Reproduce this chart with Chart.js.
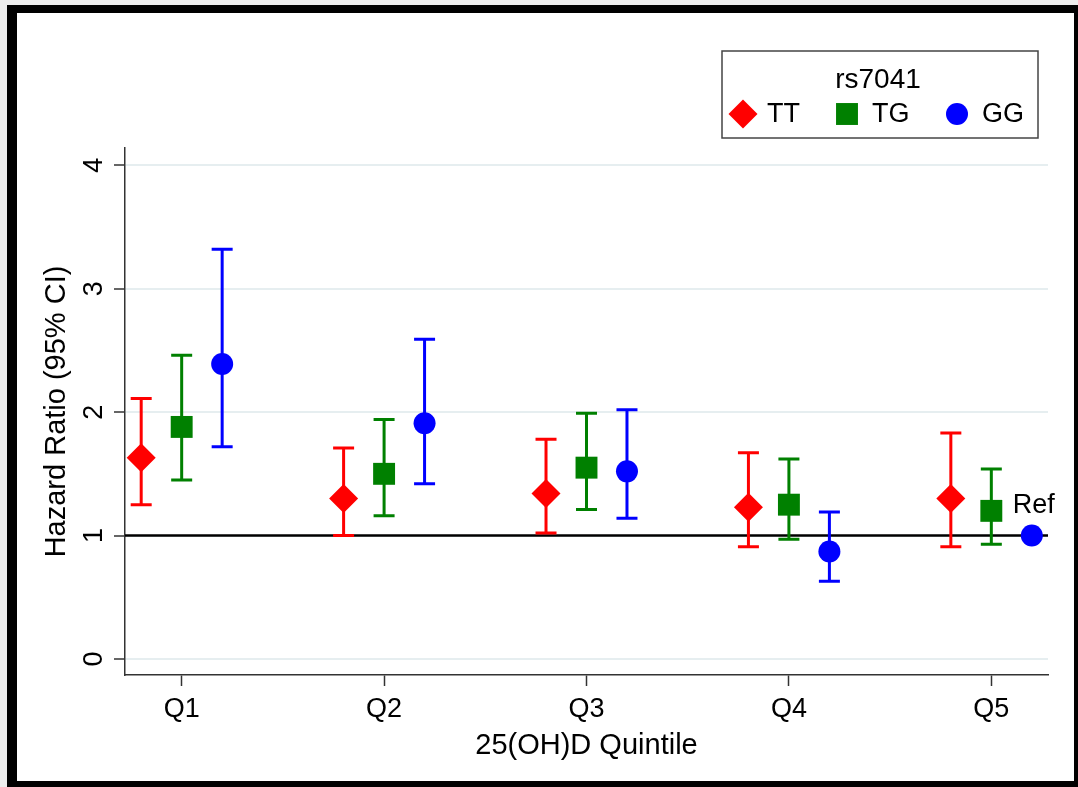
<!DOCTYPE html>
<html><head><meta charset="utf-8">
<script src="https://cdn.jsdelivr.net/npm/chart.js@4.4.1/dist/chart.umd.min.js"></script>
<style>
html,body{margin:0;padding:0;background:#ededed;width:1078px;height:787px;overflow:hidden;}
#frame{position:absolute;left:7px;top:5px;width:1071px;height:782px;box-sizing:border-box;border-style:solid;border-color:#000;border-width:8px 4px 6px 10px;background:#fff;}
#c{position:absolute;left:0;top:0;}
</style></head><body>
<div id="frame"></div>
<canvas id="c" width="1078" height="787"></canvas>
<script>
// ---- data ----
const categories = ['Q1','Q2','Q3','Q4','Q5'];
const genotypes = ['TT','TG','GG'];
const legendTitle = 'rs7041';
const xTitle = '25(OH)D Quintile';
const yTitle = 'Hazard Ratio (95% CI)';
const yTicks = [0,1,2,3,4];
const ttHR = [1.63,1.30,1.34,1.23,1.30];
const ttLo = [1.25,1.00,1.02,0.91,0.91];
const ttHi = [2.11,1.71,1.78,1.67,1.83];
const tgHR = [1.88,1.50,1.55,1.25,1.20];
const tgLo = [1.45,1.16,1.21,0.97,0.93];
const tgHi = [2.46,1.94,1.99,1.62,1.54];
const ggHR = [2.39,1.91,1.52,0.87,1.00];
const ggLo = [1.72,1.42,1.14,0.63,null];
const ggHi = [3.32,2.59,2.02,1.19,null];
const refValue = 1;
const refLabel = 'Ref';

// ---- styling ----
const FONT = "'Liberation Sans', Arial, Helvetica, sans-serif";
Chart.defaults.font.family = FONT;
Chart.defaults.color = '#000';
const xMin = 0.72, xMax = 5.28, yMin = -0.13, yMax = 4.14;
const groupOffset = [-0.2, 0, 0.2];
const colors = ['#ff0000','#008000','#0000ff'];
const markers = [
  {pointStyle:'rectRot', radius:14.5},
  {pointStyle:'rect', radius:15.5},
  {pointStyle:'circle', radius:11}
];
const series = [[ttHR,ttLo,ttHi],[tgHR,tgLo,tgHi],[ggHR,ggLo,ggHi]];

const datasets = series.map((s,i)=>({
  type:'scatter',
  label: genotypes[i],
  data: categories.map((c,j)=>({x:j+1+groupOffset[i], y:s[0][j], lo:s[1][j], hi:s[2][j]})),
  pointStyle: markers[i].pointStyle,
  pointRadius: markers[i].radius,
  pointHoverRadius: markers[i].radius,
  backgroundColor: colors[i],
  borderColor: colors[i],
  borderWidth: 0,
  order: 1
}));

const errorBarPlugin = {
  id:'errorBars',
  beforeDatasetsDraw(chart){
    const {ctx, chartArea, scales:{x, y}} = chart;
    ctx.save();
    const yr = y.getPixelForValue(refValue);
    ctx.strokeStyle = '#000'; ctx.lineWidth = 2.5;
    ctx.beginPath(); ctx.moveTo(chartArea.left, yr); ctx.lineTo(chartArea.right, yr); ctx.stroke();
    chart.data.datasets.forEach((ds)=>{
      ctx.strokeStyle = ds.borderColor; ctx.lineWidth = 3; ctx.lineCap = 'butt';
      ds.data.forEach(p=>{
        if (p.lo == null || p.hi == null) return;
        const px = x.getPixelForValue(p.x);
        const pl = y.getPixelForValue(p.lo), ph = y.getPixelForValue(p.hi);
        ctx.beginPath();
        ctx.moveTo(px, pl); ctx.lineTo(px, ph);
        ctx.moveTo(px-10.5, pl); ctx.lineTo(px+10.5, pl);
        ctx.moveTo(px-10.5, ph); ctx.lineTo(px+10.5, ph);
        ctx.stroke();
      });
    });
    ctx.restore();
  },
  afterDatasetsDraw(chart){
    const {ctx, scales:{x, y}} = chart;
    const ds = chart.data.datasets[2];
    ds.data.forEach(p=>{
      if (p.lo == null && p.hi == null) {
        ctx.save();
        ctx.font = '27px ' + FONT; ctx.fillStyle = '#000';
        ctx.textAlign = 'center'; ctx.textBaseline = 'middle';
        ctx.fillText(refLabel, x.getPixelForValue(p.x)+2, y.getPixelForValue(p.y)-30);
        ctx.restore();
      }
    });
  }
};

function drawMarker(ctx, style, r, cx, cy, color){
  ctx.save(); ctx.fillStyle = color; ctx.beginPath();
  if (style === 'rectRot') {
    ctx.moveTo(cx, cy-r); ctx.lineTo(cx+r, cy); ctx.lineTo(cx, cy+r); ctx.lineTo(cx-r, cy); ctx.closePath();
  } else if (style === 'rect') {
    const h = r*Math.SQRT1_2; ctx.rect(cx-h, cy-h, 2*h, 2*h);
  } else {
    ctx.arc(cx, cy, r, 0, Math.PI*2);
  }
  ctx.fill(); ctx.restore();
}

const legendPlugin = {
  id:'boxLegend',
  afterDraw(chart){
    const ctx = chart.ctx;
    const bx = 722, by = 51, bw = 316, bh = 87;
    ctx.save();
    ctx.fillStyle = '#fff'; ctx.fillRect(bx, by, bw, bh);
    ctx.strokeStyle = '#444'; ctx.lineWidth = 1.5; ctx.strokeRect(bx, by, bw, bh);
    ctx.fillStyle = '#000'; ctx.textBaseline = 'middle';
    ctx.font = '28px ' + FONT; ctx.textAlign = 'center';
    ctx.fillText(legendTitle, bx + bw/2 - 2, 80);
    ctx.font = '27px ' + FONT; ctx.textAlign = 'left';
    const mx = [743, 847, 957];
    const tx = [767, 872, 982];
    genotypes.forEach((g,i)=>{
      drawMarker(ctx, markers[i].pointStyle, markers[i].radius, mx[i], 114, colors[i]);
      ctx.fillStyle = '#000';
      ctx.fillText(g, tx[i], 115);
    });
    ctx.restore();
  }
};

new Chart(document.getElementById('c'), {
  data: { datasets },
  options: {
    responsive:false, animation:false, devicePixelRatio:1,
    layout:{ padding:{left:0, right:30, top:148, bottom:0} },
    plugins:{ legend:{display:false}, tooltip:{enabled:false} },
    scales:{
      x:{
        type:'linear', min:xMin, max:xMax,
        afterBuildTicks(s){ s.ticks = categories.map((c,i)=>({value:i+1})); },
        afterFit(s){ s.height = 112; },
        ticks:{ callback:(v)=>categories[Math.round(v)-1] ?? '', font:{size:27}, padding:7, maxRotation:0, autoSkip:false },
        grid:{ drawOnChartArea:false, drawTicks:true, tickLength:11, tickColor:'#333', tickWidth:1.5 },
        border:{ color:'#333', width:1.5 },
        title:{ display:true, text:xTitle, font:{size:29, lineHeight:1}, padding:{top:0, bottom:27} }
      },
      y:{
        type:'linear', min:yMin, max:yMax,
        afterBuildTicks(s){ s.ticks = yTicks.map(v=>({value:v})); },
        afterFit(s){ s.width = 125; },
        ticks:{ callback:(v)=>String(v), font:{size:27}, padding:12, minRotation:90, maxRotation:90, crossAlign:'center' },
        grid:{ color:'#e6eef0', lineWidth:2, drawTicks:true, tickLength:11, tickColor:'#333', tickWidth:1.5 },
        border:{ color:'#333', width:1.5 },
        title:{ display:true, text:yTitle, font:{size:29, lineHeight:1}, padding:{top:42, bottom:0} }
      }
    }
  },
  plugins:[errorBarPlugin, legendPlugin]
});
</script>
</body></html>
